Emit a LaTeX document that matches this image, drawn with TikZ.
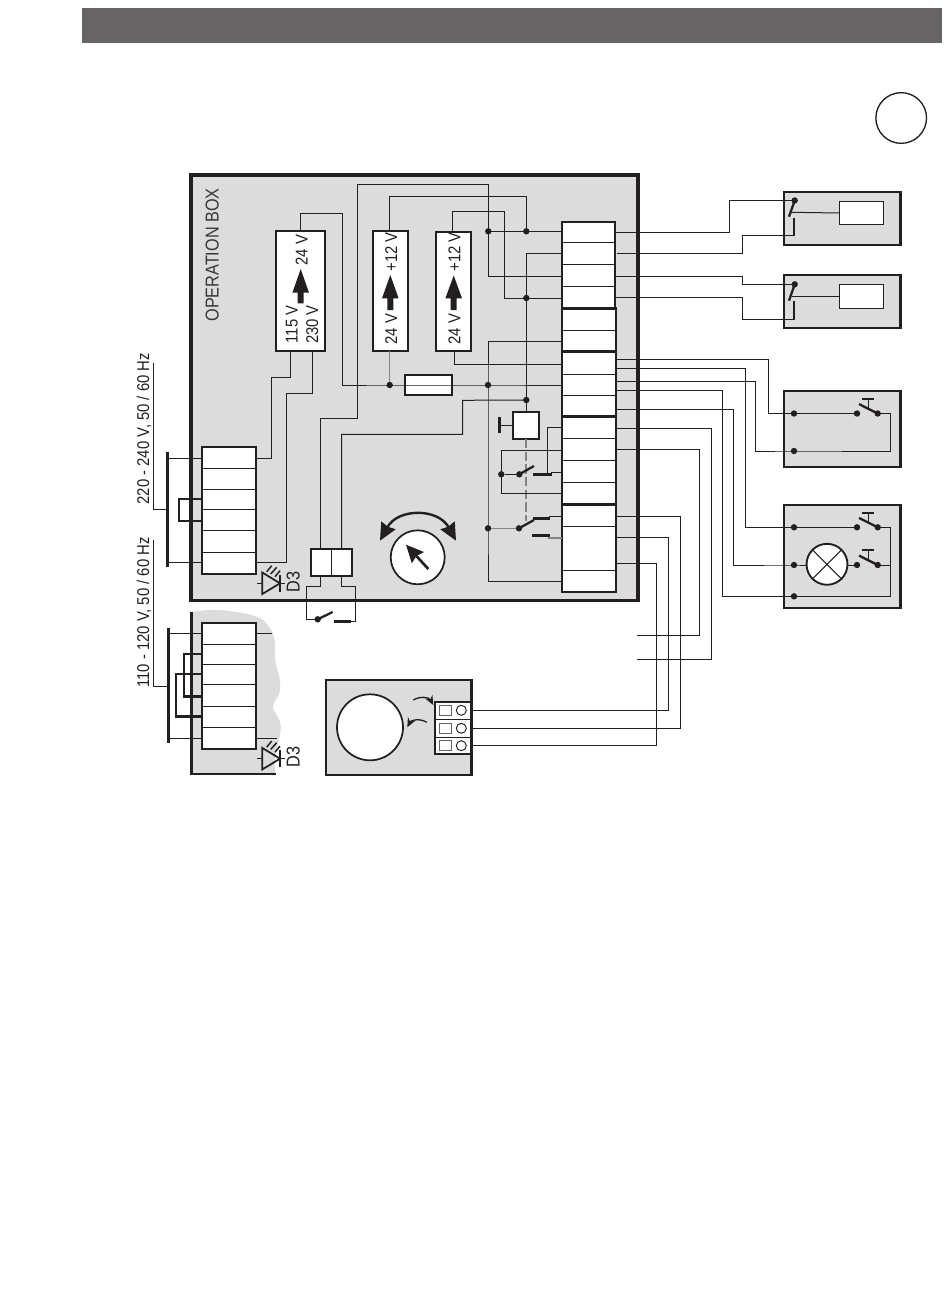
\documentclass[tikz,border=0pt]{standalone}
\usepackage{fontspec}
\setmainfont[FakeStretch=0.87]{Liberation Sans}
\usetikzlibrary{arrows.meta}
\definecolor{ink}{HTML}{231F20}
\definecolor{panel}{HTML}{DCDCDC}
\definecolor{head}{HTML}{666464}
\tikzset{
  x=0.75pt,y=-0.75pt,
  wire/.style={draw=ink,line width=0.75pt,line join=miter},
  greywire/.style={draw=ink!55,line width=1pt},
  heavy/.style={draw=ink,line width=2.1pt,line join=miter},
  bar/.style={draw=ink,line width=2pt},
  blade/.style={draw=ink,line width=1.7pt},
  dot/.style={circle,fill=ink,inner sep=0pt,minimum size=4.8pt,outer sep=0pt},
  panelbox/.style={rectangle,draw=ink,fill=panel,line width=1.8pt,inner sep=0pt,outer sep=0pt},
  whitebox/.style={rectangle,draw=ink,fill=white,line width=1.6pt,inner sep=0pt,outer sep=0pt},
  thinbox/.style={rectangle,draw=ink,fill=white,line width=0.75pt,inner sep=0pt,outer sep=0pt},
  vlabel/.style={rotate=90,inner sep=0pt,text=ink,font=\fontsize{12.8}{12.8}\selectfont,anchor=mid},
}
\newcommand{\bx}[6]{\node[#2,minimum width={((#5)-(#3))*0.75pt},minimum height={((#6)-(#4))*0.75pt}] (#1) at ({((#3)+(#5))/2},{((#4)+(#6))/2}) {};}
\newcommand{\rowlines}[3]{\foreach \ry in {#3} \draw[wire] (#1,\ry) -- (#2,\ry);}
\newcommand{\bigarrow}[4]{\fill[ink] (#1,#2) -- (#1+8.3,#3) -- (#1+3,#3) -- (#1+3,#4) -- (#1-3,#4) -- (#1-3,#3) -- (#1-8.3,#3) -- cycle;}
\newcommand{\ledsym}[2]{\begin{scope}[shift={(#1,#2)}]
  \draw[draw=ink,line width=1.3pt,line join=miter] (0,0) -- (-17.7,-10.8) -- (-17.7,10.7) -- cycle;
  \draw[bar,line width=1.6pt] (0,-8.3) -- (0,8.4);
  \draw[wire,line width=1.1pt] (-22.7,0) -- (-17.7,0);
  \draw[wire,line width=1.1pt] (0,0) -- (5,0);
  \draw[wire,line width=1.1pt] (-13.3,-11.6) -- (-8.3,-17.6);
  \draw[wire,line width=1.1pt] (-9.3,-9.3) -- (-3.3,-16);
  \draw[wire,line width=1.1pt] (-5,-6.6) -- (0,-12.6);
\end{scope}}
\newcommand{\pushsw}[2]{%
  \node[dot] (#1a) at (857,#2) {};
  \node[dot] (#1b) at (877.7,#2) {};
  \draw[blade] (859,#2-9.4) -- (#1b.center);
  \draw[wire,line width=1pt] (868.3,#2-14.7) -- (868.3,#2-5);
  \draw[bar,line width=1.6pt] (862,#2-14.7) -- (874.3,#2-14.7);}
\begin{document}
\begin{tikzpicture}
\useasboundingbox (0,0) rectangle (950,1295);
\fill[white] (0,0) rectangle (950,1295);
% header and corner circle
\bx{header}{rectangle,fill=head,inner sep=0pt,outer sep=0pt}{82}{8}{942.3}{42.6}
\node[circle,draw=ink,fill=white,line width=1pt,inner sep=0pt,minimum size=38pt] (corner) at (901.2,118) {};

% panels
\bx{opbox}{panelbox,line width=2.5pt}{191}{175}{638}{600.5}
\bx{sensA}{panelbox}{783.7}{192}{900.3}{245}
\bx{sensB}{panelbox}{783.7}{275}{900.3}{328}
\bx{pushA}{panelbox}{783.7}{390.7}{900.3}{467}
\bx{pushB}{panelbox}{783.7}{505}{900.3}{608}
\bx{motor}{panelbox}{325.7}{680}{471.3}{775}

% cut-away lower mains panel
\fill[panel] (191,612) .. controls (205,610) and (215,609) .. (226.7,610.7)
  .. controls (245,613) and (255,615) .. (263,620)
  .. controls (272,628) and (276,638) .. (275,650)
  .. controls (273,665) and (282,675) .. (280,690)
  .. controls (279,698) and (272,702) .. (273,708)
  .. controls (275,714) and (282,720) .. (280.7,730)
  .. controls (279,745) and (272,755) .. (275.7,774) -- (191,774) -- cycle;
\draw[heavy] (191.3,612) -- (191.3,774) -- (275.7,774);

% converters
\bx{conA}{whitebox}{275.7}{230.7}{325.3}{351.3}
\bx{conB}{whitebox}{372.7}{230.7}{408.3}{351.3}
\bx{conC}{whitebox}{435.7}{231.7}{471.3}{351.3}
\bigarrow{300.7}{269}{292.7}{303.3}
\bigarrow{390.3}{275}{298.3}{310}
\bigarrow{453.7}{275.5}{298.3}{310}
\node[vlabel] (tA) at (304,250) {24 V};
\node[vlabel] (tB) at (294,324.5) {115 V};
\node[vlabel] (tC) at (314.5,324.5) {230 V};
\node[vlabel] (tD) at (393.5,252) {+12 V};
\node[vlabel] (tE) at (393.5,329) {24 V};
\node[vlabel] (tF) at (456.8,252) {+12 V};
\node[vlabel] (tG) at (456.8,329) {24 V};

% fuse, relay boxes
\bx{fuse}{whitebox}{404.7}{374.7}{452.3}{395.3}
\bx{relay}{whitebox}{512.7}{411.7}{539.3}{439}
\bx{relB}{whitebox}{311}{549.3}{352.3}{576}

% terminal blocks
\bx{blkA}{whitebox}{561.7}{221.7}{615}{308.3}
\bx{blkB}{whitebox}{561.7}{308.3}{616.3}{351.7}
\bx{blkC}{whitebox}{561.7}{351.7}{616.3}{416.2}
\bx{blkD}{whitebox}{562}{416.2}{616.3}{504.3}
\bx{blkE}{whitebox}{562}{504.3}{616.3}{592}
\bx{mainsA}{whitebox}{202}{446.7}{256.3}{573.7}
\bx{mainsB}{whitebox}{202}{622.7}{256.3}{749}
\rowlines{561.7}{615}{242.3,264.3,286.3}
\rowlines{561.7}{616.3}{330.3,374.3,395.3,438.3,460.3,482.3,526.3,570.3}
\rowlines{202}{256.3}{468.3,489.3,509.3,530,552.3,644.3,664.3,684.3,706,727.3}
\foreach \sy in {308.3,351.7,416.2,504.3} \draw[bar,line width=2.1pt] (561.7,\sy) -- (616.3,\sy);
\draw[wire] (331.7,549.3) -- (331.7,576);

% named terminals
\foreach \n/\px/\py in {
  La/561.7/231.3,Lb/561.7/253.3,Lc/561.7/276.3,Ld/561.7/298,Le/561.7/341.3,Lf/561.7/364.3,Lg/561.7/385,
  Lh/562/427.3,Li/562/450.7,Lj/562/472.3,Lk/562/493.3,Ll/562/516.7,Lm/562/538,Ln/562/581.3,
  Ra/615/232.3,Rb/616.7/253.3,Rc/615/276.3,Rd/615/297.3,Re/616.3/359.3,Rf/616.3/368.3,Rg/616.3/381.3,
  Rh/616.3/390.7,Ri/616.3/409.7,Rj/616.3/428.7,Rk/616.3/449.3,Rl/616.3/516,Rm/616.3/537.3,Rn/616.3/563.3,
  TAt/300/230.7,TBt/389.7/230.7,TCt/452.3/231.7,TAa/290.3/351.3,TAb/312.3/351.3,TBb/389.7/351.3,TCb/454.3/351.3,
  MAa/256.3/458.3,MAb/256.3/562.3,MAc/202/458.3,MAd/202/562.3,MBa/202/633.3,MBb/202/738,MBc/256.3/633.3,MBd/256.3/738,
  RTl/320.7/549.3,RTr/341.7/549.3,RBl/320.7/576,RBr/341.7/576,RYt/526.3/411.7,RYl/512.7/425,
  FREEa/637.3/635.3,FREEb/637.3/659.3,MTa/471.3/710.3,MTb/471.3/728.3,MTc/471.3/745.7}
  {\coordinate (\n) at (\px,\py);}

% junctions
\foreach \n/\px/\py in {Ja/488.3/231.3,Jb/526.3/231.3,Jc/526.3/298,Jd/389.7/385,Je/488/385,Jf/526.3/400,
  Jg/501.3/474.3,Jh/519.3/474.3,Ji/488/528.3,Jj/519/528.3,Jk/317.7/619.3,
  Sa/794.7/200.5,Sb/794.7/284.3,Pa/794/413.5,Pb/794/451,Qa/794/527.3,Qb/794/565,Qc/794/596.3}
  {\node[dot] (\n) at (\px,\py) {};}

% interior wiring
\draw[wire] (TAt) -- (300,213.3) -- (342.3,213.3) -- (342.3,385) -- (Jd.center) -- (Je.center) -- (Lg);
\draw[greywire] (TBb) -- (Jd);
\draw[wire] (TBt) -- (389.7,196.7) -- (526.3,196.7) -- (Jb);
\draw[wire] (Ja.center) -- (La);
\draw[wire] (RTl) -- (320.7,418.3) -- (357.3,418.3) -- (357.3,184.3) -- (488.3,184.3) -- (Ja.center) -- (488.3,276.3) -- (Lc);
\draw[wire] (TCt) -- (452.3,211.3) -- (504.3,211.3) -- (504.3,298) -- (Ld);
\draw[wire] (Lb) -- (526.3,253.3) -- (Jc.center) -- (Jf.center) -- (RYt);
\draw[wire] (Jf.center) -- (462.7,400.3) -- (462.7,434.3) -- (341.7,434.3) -- (RTr);
\draw[wire] (TCb) -- (454.3,364.3) -- (Lf);
\draw[wire] (Le) -- (488,341.3) -- (Je.center) -- (Ji.center) -- (488,581.3) -- (Ln);
\draw[wire] (MAa) -- (271.3,458.3) -- (271.3,377.3) -- (290.3,377.3) -- (TAa);
\draw[wire] (MAb) -- (286.7,562.3) -- (286.7,393.3) -- (312.3,393.3) -- (TAb);
\draw[wire] (RYl) -- (499.3,425);
\draw[bar] (499.3,416.7) -- (499.3,433.3);
\draw[draw=ink!55,line width=1pt,dash pattern=on 7pt off 2.5pt] (relay.south) -- (526,521);

% relay contact set 1
\draw[wire] (Li) -- (501.3,450.7) -- (Jg.center) -- (501.3,493.3) -- (Lk);
\draw[wire] (Jg) -- (Jh);
\draw[blade] (Jh.center) -- (534,466);
\draw[bar] (533.3,474.3) -- (551.7,474.3);
\draw[wire] (Lh) -- (547.7,427.3) -- (547.7,474);
\draw[wire] (551,472.3) -- (Lj);
% relay contact set 2
\draw[greywire,line width=0.8pt] (Ji) -- (Jj);
\draw[blade] (Jj.center) -- (534,520);
\draw[bar] (532.7,518.3) -- (550,518.3);
\draw[bar] (532.3,535.3) -- (550,535.3);
\draw[wire] (549,516.7) -- (Ll);
\draw[greywire,line width=0.8pt] (548,538) -- (Lm);

% mains supply side
\draw[bar,line width=2.1pt] (167.3,452.3) -- (167.3,567.3);
\draw[wire] (167.3,458.3) -- (MAc);
\draw[wire] (167.3,562.3) -- (MAd);
\draw[heavy] (202,499) -- (179,499) -- (179,521) -- (202,521);
\coordinate (leadA) at (153.3,363.3);
\draw[wire] (leadA) -- (153.3,509.3) -- (167.3,509.3);
\draw[bar,line width=2.1pt] (168.3,627.7) -- (168.3,743.3);
\draw[wire] (168.3,633.3) -- (MBa);
\draw[wire] (168.3,738) -- (MBb);
\draw[wire] (MBc) -- (271.7,633.3);
\draw[wire] (MBd) -- (276.7,738);
\draw[heavy] (202,654) -- (184,654) -- (184,696.7) -- (202,696.7);
\draw[heavy] (202,674) -- (176,674) -- (176,716.7) -- (202,716.7);
\coordinate (leadB) at (153.3,540);
\draw[wire] (leadB) -- (153.3,686) -- (168.3,686);
\node[vlabel] (volA) at (145.5,428.7) {220 - 240 V, 50 / 60 Hz};
\node[vlabel] (volB) at (145.5,612.5) {110 - 120 V, 50 / 60 Hz};
\node[vlabel,font=\fontsize{14}{14}\selectfont,text=ink!90] (opname) at (215,255) {OPERATION BOX};
\ledsym{280}{583.3}
\ledsym{280}{758.7}
\node[vlabel,font=\fontsize{14}{14}\selectfont] (dA) at (296,581.7) {D3};
\node[vlabel,font=\fontsize{14}{14}\selectfont] (dB) at (296,756.7) {D3};

% external relay switch
\draw[wire] (RBl) -- (320.7,586) -- (306.3,586) -- (306.3,619.3) -- (Jk);
\draw[blade] (Jk.center) -- (332.7,612);
\draw[bar] (334,621.3) -- (351.3,621.3);
\draw[wire] (RBr) -- (341.7,586) -- (355.3,586) -- (355.3,621.3) -- (351.3,621.3);

% dial
\node[circle,draw=ink,fill=white,line width=1.3pt,inner sep=0pt,minimum size=40.5pt] (dial) at (417.7,557.3) {};
\draw[line width=2pt,draw=ink,-{Stealth[length=13pt,width=12pt,inset=1.5pt]}] (428.3,569) -- (406,544.7);
\draw[line width=1.8pt,draw=ink,{Stealth[length=13pt,width=12pt,inset=1pt]}-{Stealth[length=13pt,width=12pt,inset=1pt]}] (380,540.7) .. controls (398,508) and (438,508) .. (456,540.7);

% sensor boxes
\bx{coilA}{thinbox}{839.3}{201.7}{883.7}{224.3}
\bx{coilB}{thinbox}{839.3}{284.3}{883.7}{308.3}
\draw[wire] (Ra) -- (729.3,232.3) -- (729.3,200.5) -- (Sa);
\draw[wire] (Rb) -- (742.3,253.3) -- (742.3,235.3) -- (794.3,235.3);
\draw[wire] (Rc) -- (742.3,276.3) -- (742.3,284.3) -- (Sb);
\draw[wire] (Rd) -- (742.3,297.3) -- (742.3,319.3) -- (794.3,319.3);
\draw[blade] (Sa.center) -- (789,216.7);
\draw[blade] (Sb.center) -- (789,300.7);
\draw[blade] (794.3,217.7) -- (794.3,236);
\draw[blade] (794.3,301) -- (794.3,320);
\draw[wire] (791.7,212.3) -- (coilA.west);
\draw[wire] (791.7,296.3) -- (coilB.west |- 0,296.3);

% push-button boxes
\pushsw{Ua}{413.5}
\pushsw{Ub}{527.3}
\pushsw{Uc}{565}
\node[circle,draw=ink,fill=white,line width=1.4pt,inner sep=0pt,minimum size=30.7pt] (lamp) at (827,564.3) {};
\draw[wire] (lamp.45) -- (lamp.225);
\draw[wire] (lamp.135) -- (lamp.315);
\draw[wire] (Re) -- (768.3,359.3) -- (768.3,413.5) -- (Pa.center) -- (Uaa.center);
\draw[wire] (Uab.center) -- (890,413.5) -- (890,451) -- (Pb.center) -- (755.7,451) -- (755.7,381.3) -- (Rg);
\draw[wire] (Rf) -- (745.3,368.3) -- (745.3,527.3) -- (Qa.center) -- (Uba.center);
\draw[wire] (Rh) -- (722.3,390.7) -- (722.3,596.3) -- (Qc.center) -- (890.7,596.3) -- (890.7,527.3) -- (Ubb.center);
\draw[wire] (Ucb.center) -- (890.7,565);
\draw[wire] (Ri) -- (733.7,409.7) -- (733.7,565) -- (Qb.center) -- (lamp.west |- Qb);
\draw[wire] (lamp.east |- Uca) -- (Uca.center);

% wires to loose ends and motor
\draw[wire] (Rj) -- (711.5,428.7) -- (711.5,659.3) -- (FREEb);
\draw[wire] (Rk) -- (699.3,449.3) -- (699.3,635.3) -- (FREEa);
\draw[wire] (Rl) -- (680.3,516) -- (680.3,728.3) -- (MTb);
\draw[wire] (Rm) -- (668.3,537.3) -- (668.3,710.3) -- (MTa);
\draw[wire] (Rn) -- (656.3,563.3) -- (656.3,745.7) -- (MTc);

% motor panel
\node[circle,draw=ink,fill=white,line width=1.3pt,inner sep=0pt,minimum size=49.5pt] (motorc) at (370,727.3) {};
\bx{terms}{whitebox}{435}{701.7}{471.3}{754.3}
\rowlines{435}{471.3}{719.3,737.3}
\foreach \n/\ty in {a/710.3,b/728.3,c/745.7}{
  \bx{sq\n}{thinbox,draw=ink!70}{439}{\ty-5}{451.3}{\ty+5}
  \node[circle,draw=ink,fill=white,line width=0.7pt,inner sep=0pt,minimum size=7.5pt] (cr\n) at (461.3,\ty) {};
}
\draw[line width=1pt,draw=ink,-{Stealth[length=7pt,width=6pt]}] (413.3,700) .. controls (420,696) and (429,697) .. (433.3,705);
\draw[line width=1pt,draw=ink,-{Stealth[length=7pt,width=6pt]}] (426.7,722.3) .. controls (420,718) and (411,720) .. (407.3,727.3);
\end{tikzpicture}
\end{document}
